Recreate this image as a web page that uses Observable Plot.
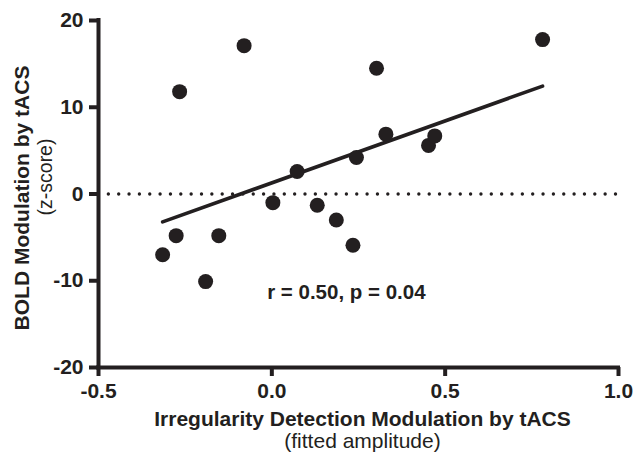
<!DOCTYPE html>
<html>
<head>
<meta charset="utf-8">
<script src="https://cdn.jsdelivr.net/npm/d3@7"></script>
<script src="https://cdn.jsdelivr.net/npm/@observablehq/plot@0.6"></script>
<style>
  html, body { margin: 0; padding: 0; background: #fff; }
  #chart { width: 634px; height: 454px; }
</style>
</head>
<body>
<div id="chart"></div>
<script>
// Data
const detectionModulation = [-0.315, -0.276, -0.266, -0.191, -0.153, -0.080, 0.003, 0.073, 0.131, 0.186, 0.234, 0.244, 0.302, 0.329, 0.452, 0.470, 0.781];
const boldModulation      = [-7.0,   -4.8,   11.8,  -10.1,  -4.8,   17.1,  -1.0,   2.6,  -1.3,  -3.0,  -5.9,   4.2,  14.5,   6.9,   5.6,   6.7,  17.8];
const xTicks = [-0.5, 0.0, 0.5, 1.0];
const yTicks = [-20, -10, 0, 10, 20];
const xTitle = "Irregularity Detection Modulation by tACS";
const xSubtitle = "(fitted amplitude)";
const yTitle = "BOLD Modulation by tACS";
const ySubtitle = "(z-score)";
const statLabel = ["r = 0.50, p = 0.04"];
const statX = [0.215];
const statY = [-11.4];

const points = detectionModulation.map((x, i) => ({x, y: boldModulation[i]}));
const stats = statLabel.map((label, i) => ({label, x: statX[i], y: statY[i]}));

const ink = "#231f20";
const xDomain = [xTicks[0], xTicks[xTicks.length - 1]];
const yDomain = [yTicks[0], yTicks[yTicks.length - 1]];

const chart = Plot.plot({
  width: 634,
  height: 454,
  marginLeft: 98,
  marginRight: 16,
  marginTop: 20,
  marginBottom: 87,
  style: {fontFamily: "'Liberation Sans', Arial, Helvetica, sans-serif", fontWeight: "bold", color: ink, background: "#fff"},
  x: {domain: xDomain},
  y: {domain: yDomain},
  marks: [
    // dotted zero line
    Plot.ruleY([0], {x1: xDomain[0], x2: xDomain[1], stroke: ink, strokeWidth: 3.4, strokeDasharray: "0 10.35", strokeLinecap: "round"}),
    // regression line
    Plot.linearRegressionY(points, {x: "x", y: "y", ci: 0, stroke: ink, strokeWidth: 3.6}),
    // points
    Plot.dot(points, {x: "x", y: "y", r: 7.5, fill: ink, stroke: null}),
    // axes
    Plot.axisY({ticks: yTicks, tickSize: 9, tickPadding: 6, strokeWidth: 4, stroke: ink, fill: ink, fontSize: 21, fontWeight: "bold", tickFormat: d => String(d), label: null}),
    Plot.axisX({ticks: xTicks, tickSize: 9, tickPadding: 7, strokeWidth: 4, stroke: ink, fill: ink, fontSize: 21, fontWeight: "bold", tickFormat: d => d.toFixed(1), label: null}),
    Plot.ruleX([xDomain[0]], {y1: yDomain[0], y2: yDomain[1], stroke: ink, strokeWidth: 4, strokeLinecap: "square"}),
    Plot.ruleY([yDomain[0]], {x1: xDomain[0], x2: xDomain[1], stroke: ink, strokeWidth: 4, strokeLinecap: "square"}),
    // annotation
    Plot.text(stats, {x: "x", y: "y", text: "label", fontSize: 20.5, fontWeight: "bold", fill: ink}),
    // axis titles
    Plot.text([xTitle], {frameAnchor: "bottom", textAnchor: "middle", lineAnchor: "bottom", dx: 4, dy: 58, fontSize: 21, fontWeight: "bold", fill: ink}),
    Plot.text([xSubtitle], {frameAnchor: "bottom", textAnchor: "middle", lineAnchor: "bottom", dx: 4, dy: 80, fontSize: 21, fontWeight: "normal", fill: ink}),
    Plot.text([yTitle], {frameAnchor: "left", textAnchor: "middle", lineAnchor: "bottom", rotate: -90, dx: -70, dy: 4, fontSize: 21, fontWeight: "bold", fill: ink}),
    Plot.text([ySubtitle], {frameAnchor: "left", textAnchor: "middle", lineAnchor: "bottom", rotate: -90, dx: -47, dy: -17, fontSize: 19.5, fontWeight: "normal", fill: ink})
  ]
});
document.getElementById("chart").appendChild(chart);
</script>
</body>
</html>
